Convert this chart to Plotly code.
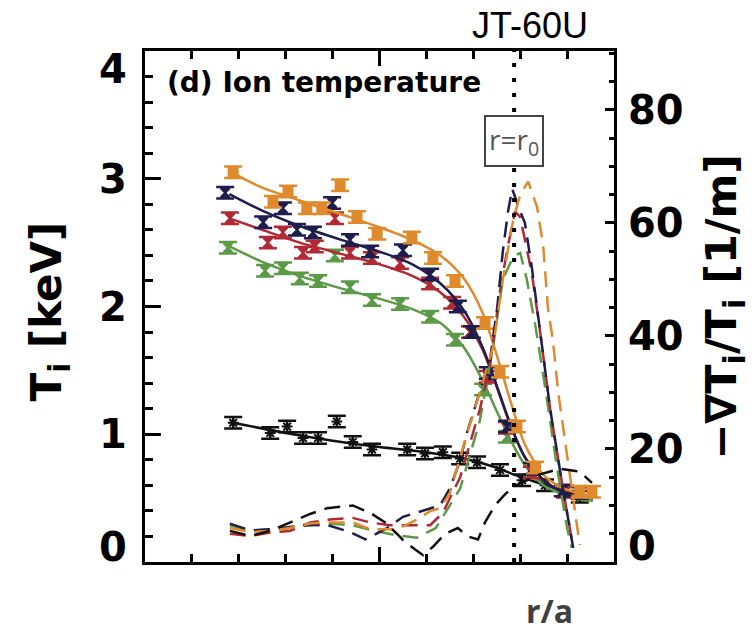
import plotly.graph_objects as go

# ---------------- data ----------------
# axis ticks
tick_T = [0, 1, 2, 3, 4]
tick_T_labels = ["0", "1", "2", "3", "4"]
tick_G = [0, 20, 40, 60, 80]
tick_G_labels = ["0", "20", "40", "60", "80"]

r0 = 0.787  # position of r = r0

# Ion temperature measurements (r/a, keV)
ora_x = [0.188, 0.273, 0.305, 0.345, 0.377, 0.416, 0.452, 0.495, 0.569, 0.614, 0.661, 0.725, 0.757, 0.793, 0.832, 0.927, 0.953]
ora_T = [3.05, 2.82, 2.90, 2.77, 2.77, 2.95, 2.70, 2.57, 2.54, 2.38, 2.20, 1.87, 1.49, 1.06, 0.74, 0.55, 0.55]
nav_x = [0.171, 0.252, 0.294, 0.324, 0.358, 0.399, 0.437, 0.480, 0.550, 0.608, 0.667, 0.697, 0.731, 0.772, 0.825, 0.891, 0.927]
nav_T = [2.89, 2.66, 2.77, 2.60, 2.58, 2.81, 2.52, 2.43, 2.44, 2.25, 2.00, 1.80, 1.48, 1.06, 0.73, 0.56, 0.54]
red_x = [0.181, 0.262, 0.294, 0.337, 0.362, 0.405, 0.437, 0.484, 0.544, 0.608, 0.655, 0.693, 0.731, 0.772, 0.825, 0.896]
red_T = [2.69, 2.50, 2.58, 2.42, 2.47, 2.69, 2.42, 2.38, 2.34, 2.18, 2.03, 1.80, 1.45, 1.05, 0.70, 0.55]
grn_x = [0.177, 0.256, 0.294, 0.330, 0.369, 0.405, 0.437, 0.484, 0.544, 0.608, 0.661, 0.721, 0.772, 0.825, 0.896]
grn_T = [2.46, 2.28, 2.30, 2.22, 2.20, 2.40, 2.15, 2.05, 2.02, 1.92, 1.74, 1.35, 0.98, 0.70, 0.55]
blk_x = [0.188, 0.267, 0.303, 0.337, 0.369, 0.409, 0.443, 0.484, 0.559, 0.597, 0.635, 0.672, 0.708, 0.757, 0.804, 0.853, 0.927]
blk_T = [1.09, 1.01, 1.06, 0.97, 0.97, 1.10, 0.94, 0.88, 0.88, 0.85, 0.86, 0.81, 0.78, 0.72, 0.64, 0.60, 0.51]
T_err = 0.045

# Fitted profiles (r/a, keV)
fit_x = [0.18, 0.25, 0.33, 0.42, 0.50, 0.57, 0.63, 0.68, 0.72, 0.75, 0.78, 0.81, 0.85, 0.89, 0.93, 0.955]
ora_fit = [3.06, 2.93, 2.83, 2.72, 2.62, 2.52, 2.40, 2.22, 1.95, 1.62, 1.25, 0.92, 0.68, 0.58, 0.53, 0.50]
nav_fit = [2.88, 2.75, 2.63, 2.52, 2.43, 2.33, 2.18, 1.97, 1.68, 1.38, 1.07, 0.82, 0.64, 0.55, 0.51, 0.50]
red_fit = [2.69, 2.60, 2.50, 2.41, 2.33, 2.24, 2.11, 1.92, 1.66, 1.37, 1.06, 0.82, 0.64, 0.55, 0.51, 0.50]
grn_fit = [2.47, 2.35, 2.24, 2.14, 2.06, 1.98, 1.87, 1.68, 1.42, 1.18, 0.95, 0.76, 0.60, 0.53, 0.49, 0.48]
blk_fit_x = [0.188, 0.30, 0.40, 0.50, 0.60, 0.68, 0.74, 0.79, 0.83, 0.88, 0.92, 0.96]
blk_fit = [1.09, 1.01, 0.95, 0.90, 0.86, 0.81, 0.75, 0.68, 0.63, 0.57, 0.53, 0.51]

# Normalised gradient -grad(Ti)/Ti (r/a, 1/m)
ora_gx = [0.181, 0.224, 0.267, 0.309, 0.352, 0.394, 0.443, 0.480, 0.537, 0.580, 0.608, 0.629, 0.650, 0.672, 0.687, 0.714, 0.742, 0.763, 0.785, 0.800, 0.817, 0.836, 0.849, 0.859, 0.870, 0.881, 0.900, 0.913, 0.927]
ora_g = [6.0, 5.3, 5.5, 6.0, 6.8, 7.0, 7.0, 5.8, 5.8, 7.5, 9.0, 9.5, 12.2, 18.6, 22.8, 30.0, 38.0, 50.0, 60.5, 65.0, 67.3, 62.8, 56.0, 45.0, 39.0, 30.0, 19.0, 12.0, 3.0]
nav_gx = [0.181, 0.224, 0.267, 0.309, 0.352, 0.394, 0.437, 0.470, 0.516, 0.550, 0.608, 0.629, 0.650, 0.672, 0.687, 0.714, 0.736, 0.751, 0.763, 0.774, 0.783, 0.800, 0.810, 0.825, 0.842, 0.864, 0.891, 0.913]
nav_g = [6.8, 5.6, 5.8, 6.2, 6.6, 6.4, 5.3, 4.0, 6.0, 8.0, 9.5, 10.0, 13.0, 18.0, 23.0, 30.0, 36.0, 45.0, 55.0, 62.0, 66.0, 62.0, 60.0, 52.0, 41.0, 27.0, 13.0, 2.5]
red_gx = [0.181, 0.224, 0.267, 0.309, 0.352, 0.394, 0.443, 0.480, 0.522, 0.565, 0.608, 0.635, 0.672, 0.714, 0.736, 0.757, 0.774, 0.789, 0.800, 0.825, 0.842, 0.864, 0.891, 0.913]
red_g = [5.0, 4.6, 5.2, 5.5, 7.0, 7.5, 7.8, 7.0, 6.5, 6.5, 6.5, 8.7, 15.0, 27.0, 35.0, 48.0, 56.0, 62.0, 61.0, 51.0, 41.0, 27.0, 13.0, 2.5]
grn_gx = [0.181, 0.224, 0.267, 0.309, 0.352, 0.394, 0.443, 0.480, 0.537, 0.580, 0.620, 0.672, 0.714, 0.742, 0.763, 0.785, 0.800, 0.814, 0.832, 0.853, 0.878, 0.900, 0.910]
grn_g = [6.5, 5.5, 5.8, 6.0, 6.5, 6.8, 6.5, 5.7, 4.7, 4.3, 6.0, 13.0, 25.0, 38.0, 50.0, 54.0, 54.7, 50.0, 42.0, 31.0, 17.0, 6.0, 2.5]
blk_gx = [0.181, 0.224, 0.267, 0.309, 0.352, 0.388, 0.443, 0.480, 0.512, 0.537, 0.550, 0.576, 0.593, 0.614, 0.640, 0.667, 0.689, 0.710, 0.725, 0.746, 0.768, 0.789, 0.842, 0.885, 0.927, 0.953]
blk_g = [5.5, 4.6, 5.5, 7.0, 8.5, 9.5, 10.0, 8.7, 7.0, 5.0, 3.9, 2.2, 1.2, 2.7, 5.0, 6.0, 4.5, 4.0, 7.0, 10.0, 12.0, 13.5, 15.5, 16.5, 16.0, 14.0]

# ---------------- styling ----------------
ORANGE = "#E08A2E"
NAVY = "#1F1D4D"
RED = "#B02A35"
GREEN = "#5B9A47"
BLACK = "#111111"
BOLD = "DejaVu Sans"

fig = go.Figure()

series = [
    (grn_gx, grn_g, GREEN), (red_gx, red_g, RED), (nav_gx, nav_g, NAVY),
    (ora_gx, ora_g, ORANGE), (blk_gx, blk_g, BLACK),
]
for gx, gy, col in series:
    fig.add_trace(go.Scatter(x=gx, y=gy, yaxis="y2", mode="lines",
                             line=dict(color=col, width=2.5, dash="16px,9px", shape="linear"),
                             hoverinfo="skip", showlegend=False))

profiles = [
    (blk_x, blk_T, blk_fit_x, blk_fit, BLACK, "asterisk-open"),
    (grn_x, grn_T, fit_x, grn_fit, GREEN, "hourglass"),
    (red_x, red_T, fit_x, red_fit, RED, "hourglass"),
    (nav_x, nav_T, fit_x, nav_fit, NAVY, "hourglass"),
    (ora_x, ora_T, fit_x, ora_fit, ORANGE, "square"),
]
for px, pT, fx, fT, col, sym in profiles:
    fig.add_trace(go.Scatter(x=fx, y=fT, mode="lines",
                             line=dict(color=col, width=2.5, shape="spline", smoothing=0.8),
                             hoverinfo="skip", showlegend=False))
    fig.add_trace(go.Scatter(x=px, y=pT, mode="markers",
                             marker=dict(symbol=sym, size=9, color=col, line=dict(color=col, width=2)),
                             error_y=dict(type="constant", value=T_err, width=9, thickness=2.5, color=col),
                             hoverinfo="skip", showlegend=False))

# r = r0 dotted line
fig.add_shape(type="line", xref="x", yref="paper", x0=r0, x1=r0, y0=0, y1=1,
              line=dict(color="black", width=4, dash="4px,11px"))

ann = []
# tick labels
for v, t in zip(tick_T, tick_T_labels):
    shift = -18 if v == tick_T[-1] else (15 if v == tick_T[0] else 0)
    ann.append(dict(x=0, xref="paper", y=v, yref="y", text=t, showarrow=False,
                    xanchor="right", yanchor="middle", xshift=-16, yshift=shift,
                    font=dict(family=BOLD, size=40, color="black", weight="bold")))
for v, t in zip(tick_G, tick_G_labels):
    shift = 16 if v == tick_G[0] else 0
    ann.append(dict(x=1, xref="paper", y=v, yref="y2", text=t, showarrow=False,
                    xanchor="left", yanchor="middle", xshift=12, yshift=shift,
                    font=dict(family=BOLD, size=40, color="black", weight="bold")))
# axis titles
ann.append(dict(x=-0.203, xref="paper", y=0.49, yref="paper", text="T<sub>i</sub> [keV]",
                textangle=-90, showarrow=False, xanchor="center", yanchor="middle",
                font=dict(family=BOLD, size=42, color="black", weight="bold")))
ann.append(dict(x=1.234, xref="paper", y=0.499, yref="paper", text="\u2212\u2207T<sub>i</sub>/T<sub>i</sub> [1/m]",
                textangle=-90, showarrow=False, xanchor="center", yanchor="middle",
                font=dict(family=BOLD, size=43, color="black", weight="bold")))
# panel label
ann.append(dict(x=0.043, xref="paper", y=0.939, yref="paper", text="(d) Ion temperature",
                showarrow=False, xanchor="left", yanchor="middle",
                font=dict(family=BOLD, size=28, color="black", weight="bold")))
# r = r0 box
ann.append(dict(x=r0, xref="x", y=0.824, yref="paper", text="r=r<sub>0</sub>", showarrow=False,
                xanchor="center", yanchor="middle", bgcolor="white", bordercolor="#444444",
                borderwidth=2, borderpad=3, font=dict(family="Open Sans", size=28, color="#555555")))
# JT-60U and r/a
ann.append(dict(x=0.82, xref="paper", y=1.0, yref="paper", text="JT-60U", showarrow=False,
                xanchor="center", yanchor="middle", yshift=26,
                font=dict(family="Liberation Sans", size=36, color="black")))
ann.append(dict(x=0.862, xref="paper", y=0, yref="paper", text="r/a", showarrow=False,
                xanchor="center", yanchor="middle", yshift=-48,
                font=dict(family="Open Sans", size=32, color="#404040", weight="bold")))

fig.update_layout(
    width=756, height=631,
    margin=dict(l=145, r=142, t=51, b=69),
    paper_bgcolor="white", plot_bgcolor="white",
    showlegend=False,
    annotations=ann,
    xaxis=dict(range=[0, 1], showline=True, linewidth=3, linecolor="black", mirror="ticks",
               ticks="inside", ticklen=15, tickwidth=3, tickcolor="black", tick0=0, dtick=0.5,
               minor=dict(ticks="inside", ticklen=8, tickwidth=3, tickcolor="black", dtick=0.1),
               showticklabels=False, showgrid=False, zeroline=False),
    yaxis=dict(range=[0, 4], showline=True, linewidth=3, linecolor="black",
               ticks="inside", ticklen=16, tickwidth=3, tickcolor="black", tick0=0, dtick=1,
               minor=dict(ticks="inside", ticklen=8, tickwidth=3, tickcolor="black", dtick=0.2),
               showticklabels=False, showgrid=False, zeroline=False),
    yaxis2=dict(range=[0, 90.4], overlaying="y", side="right", showline=True, linewidth=3,
                linecolor="black", ticks="inside", ticklen=9, tickwidth=3, tickcolor="black",
                tick0=0, dtick=20,
                minor=dict(ticks="inside", ticklen=5, tickwidth=3, tickcolor="black", dtick=5),
                showticklabels=False, showgrid=False, zeroline=False),
)

fig.write_html("out.html")
